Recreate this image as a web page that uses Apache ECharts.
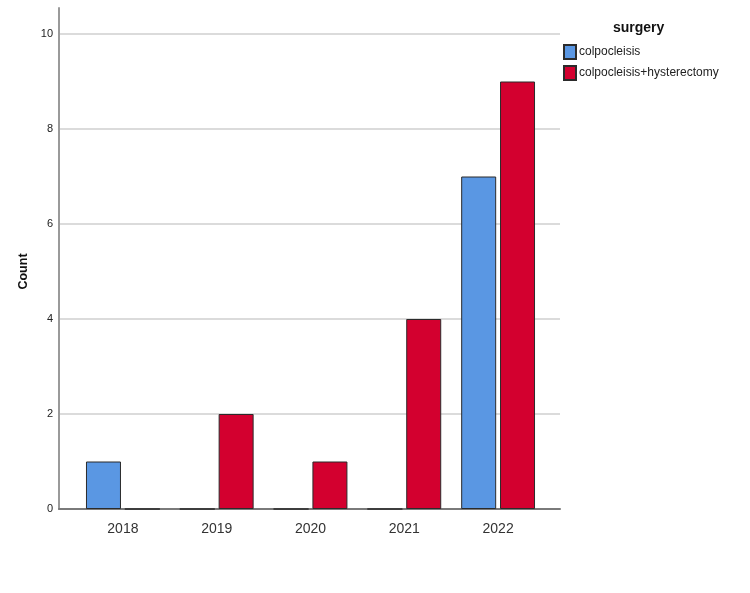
<!DOCTYPE html>
<html>
<head>
<meta charset="utf-8">
<script src="https://cdn.jsdelivr.net/npm/echarts@6/dist/echarts.min.js"></script>
<style>html,body{margin:0;padding:0;background:#fff;}#chart{width:750px;height:593px;}</style>
</head>
<body>
<div id="chart"></div>
<script>
var years = ['2018', '2019', '2020', '2021', '2022'];
var colpocleisis = [1, 0, 0, 0, 7];
var colpocleisisHysterectomy = [0, 2, 1, 4, 9];
var seriesNames = ['colpocleisis', 'colpocleisis+hysterectomy'];
var yTicks = [0, 2, 4, 6, 8, 10];

var FONT = '"Liberation Sans", Arial, sans-serif';
var chart = echarts.init(document.getElementById('chart'));
var option = {
  animation: false,
  backgroundColor: '#ffffff',
  title: {
    text: 'surgery', left: 613, top: 21, padding: 0,
    textStyle: { fontFamily: FONT, fontWeight: 'bold', fontSize: 14, color: '#111' }
  },
  legend: {
    orient: 'vertical', left: 563, top: 44, itemWidth: 12, itemHeight: 14, itemGap: 5,
    padding: 0, icon: 'rect',
    textStyle: { fontFamily: FONT, fontSize: 12, color: '#222', padding: [0, 0, 0, -2] },
    data: seriesNames
  },
  grid: [
    { left: 59, right: 190, top: 8, bottom: 84 },
    { left: 59, right: 190, top: 34, bottom: 84 },
    { left: 76, right: 205, top: 34, bottom: 84 }
  ],
  xAxis: [
    { gridIndex: 0, type: 'category', data: years, show: false },
    { gridIndex: 1, type: 'category', data: years,
      axisLine: { show: true, lineStyle: { color: '#7a7a7a', width: 2 } },
      axisTick: { show: false }, axisLabel: { show: false } },
    { gridIndex: 2, type: 'category', data: years,
      axisLine: { show: false }, axisTick: { show: false },
      axisLabel: { fontFamily: FONT, fontSize: 14, color: '#333', margin: 13 } }
  ],
  yAxis: [
    { gridIndex: 0, type: 'value', min: 0, max: 10.55,
      axisLine: { show: true, lineStyle: { color: '#9a9a9a', width: 2 } },
      axisTick: { show: false }, axisLabel: { show: false }, splitLine: { show: false } },
    { gridIndex: 1, type: 'value', min: yTicks[0], max: yTicks[yTicks.length - 1], interval: 2,
      name: 'Count', nameLocation: 'middle', nameGap: 26, nameRotate: 90,
      nameTextStyle: { fontFamily: FONT, fontWeight: 'bold', fontSize: 12.5, color: '#111' },
      axisLine: { show: false }, axisTick: { show: false },
      axisLabel: { fontFamily: FONT, fontSize: 11, color: '#222', margin: 6 },
      splitLine: { show: true, lineStyle: { color: '#cfcfcf', width: 1.5 } } },
    { gridIndex: 2, type: 'value', min: 0, max: 10, show: false }
  ],
  series: [
    { name: seriesNames[0], type: 'bar', xAxisIndex: 2, yAxisIndex: 2,
      data: colpocleisis, barWidth: 35, barGap: '11%',
      itemStyle: { color: '#5a97e3', borderColor: '#2b2b2b', borderWidth: 1 } },
    { name: seriesNames[1], type: 'bar', xAxisIndex: 2, yAxisIndex: 2,
      data: colpocleisisHysterectomy, barWidth: 35, barGap: '11%',
      itemStyle: { color: '#d3002f', borderColor: '#2b2b2b', borderWidth: 1 } }
  ]
};
chart.setOption(option);
</script>
</body>
</html>
